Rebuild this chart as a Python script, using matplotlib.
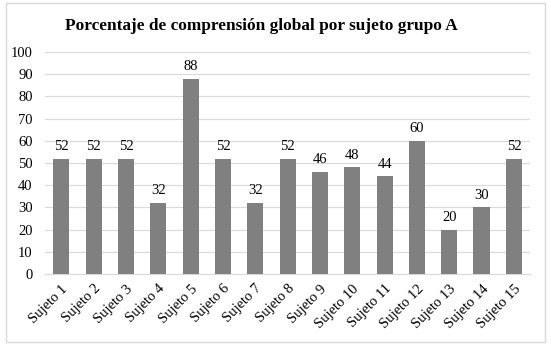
import matplotlib
matplotlib.use("Agg")
import matplotlib.pyplot as plt
from matplotlib.patches import Rectangle

sujetos = ["Sujeto %d" % i for i in range(1, 16)]
porcentajes = [52, 52, 52, 32, 88, 52, 32, 52, 46, 48, 44, 60, 20, 30, 52]

plt.rcParams['font.family'] = ['Liberation Serif', 'DejaVu Serif']

fig = plt.figure(figsize=(5.51, 3.45), dpi=100)
ax = fig.add_axes([0.082, 0.206, 0.88, 0.643])

x = range(len(sujetos))
bars = ax.bar(x, porcentajes, width=0.5, color='#808080', zorder=3)
for xi, v in zip(x, porcentajes):
    ax.text(xi, v + 2.5, str(v), ha='center', va='bottom', fontsize=10.5)

ax.set_ylim(0, 100)
ax.set_xlim(-0.5, len(sujetos) - 0.5)
ax.set_yticks(range(0, 101, 10))
ax.yaxis.grid(True, color='#d9d9d9', linewidth=0.8, zorder=0)
ax.set_xticks(list(x))
ax.set_xticklabels(sujetos, rotation=45, ha='right', rotation_mode='anchor', fontsize=10.5)
ax.tick_params(axis='both', length=0, labelsize=10.5)
ax.tick_params(axis='x', pad=6)
ax.tick_params(axis='y', pad=9)
for s in ['top', 'right', 'left']:
    ax.spines[s].set_visible(False)
ax.spines['bottom'].set_color('#d9d9d9')

fig.text(0.475, 0.925, "Porcentaje de comprensión global por sujeto grupo A",
         ha='center', va='center', fontsize=12.4, fontweight='bold')

fig.patches.append(Rectangle((0.01, 0.01), 0.98, 0.98, transform=fig.transFigure,
                             fill=False, edgecolor='#d9d9d9', linewidth=1))

fig.savefig("out.png", dpi=100)
